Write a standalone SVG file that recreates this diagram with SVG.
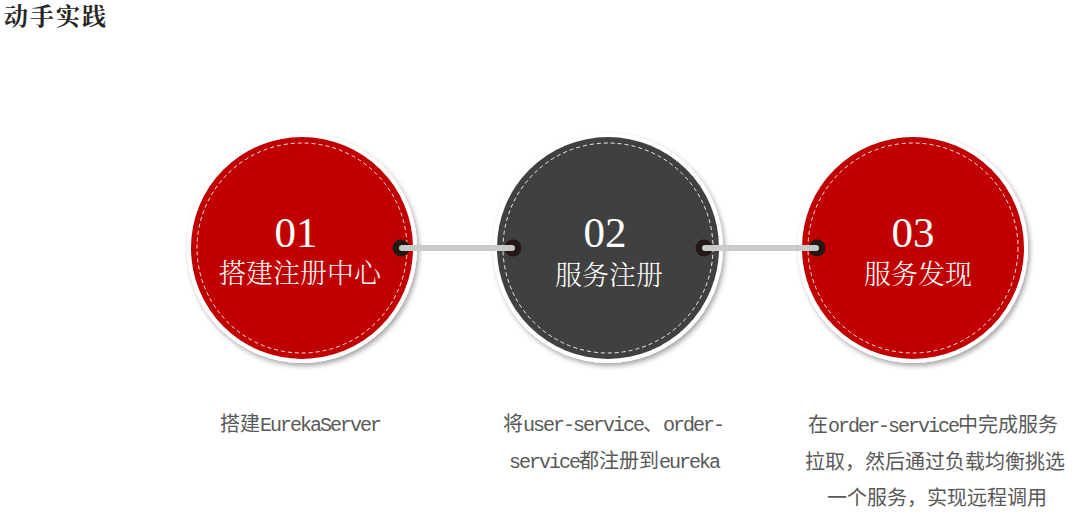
<svg xmlns="http://www.w3.org/2000/svg" width="1075" height="518" viewBox="0 0 1075 518">
  <defs>
    <filter id="shadow" x="-20%" y="-20%" width="140%" height="140%">
      <feDropShadow dx="2" dy="3" stdDeviation="2.5" flood-color="#000" flood-opacity="0.35"/>
    </filter>
  </defs>
  <style>
    .rim { fill: #ffffff; filter: url(#shadow); }
    .red { fill: #c00000; }
    .dark { fill: #404040; }
    .stitch { fill: none; stroke: #ffffff; stroke-width: 1; stroke-dasharray: 4 3; opacity: 0.9; }
    .num { font-family: "Liberation Serif", "DejaVu Serif", serif; font-size: 43px; fill: #ffffff; text-anchor: middle; }
    .label { font-family: "Noto Serif CJK SC", "Noto Sans CJK SC", sans-serif; font-size: 27px; fill: #ffffff; text-anchor: middle; font-weight: 300; }
    .cap { font-family: "Liberation Mono", "Noto Sans CJK SC", monospace; font-size: 20px; fill: #595959; text-anchor: middle; }
    .lat { letter-spacing: -2px; }
    .title { font-family: "Noto Serif CJK SC", "Noto Sans CJK SC", sans-serif; font-size: 24px; font-weight: bold; fill: #262626; letter-spacing: 2px; }
    .dot { fill: #231815; }
    .link { stroke: #c9caca; stroke-width: 6; stroke-linecap: round; }
  </style>

  <text class="title" x="4" y="25">动手实践</text>

  <g id="node-01">
    <circle class="rim" cx="302" cy="248" r="115"/>
    <circle class="red" cx="302" cy="248" r="111"/>
    <circle class="stitch" cx="302" cy="248" r="105"/>
    <text class="num" x="296" y="247">01</text>
    <text class="label" x="300" y="283">搭建注册中心</text>
  </g>

  <g id="node-02">
    <circle class="rim" cx="608" cy="248" r="115"/>
    <circle class="dark" cx="608" cy="248" r="111"/>
    <circle class="stitch" cx="608" cy="248" r="105"/>
    <text class="num" x="605" y="247">02</text>
    <text class="label" x="609" y="285">服务注册</text>
  </g>

  <g id="node-03">
    <circle class="rim" cx="913" cy="248" r="115"/>
    <circle class="red" cx="913" cy="248" r="111"/>
    <circle class="stitch" cx="913" cy="248" r="105"/>
    <text class="num" x="913" y="247">03</text>
    <text class="label" x="918" y="284">服务发现</text>
  </g>

  <g id="connectors">
    <circle class="dot" cx="401" cy="248" r="8.5"/>
    <circle class="dot" cx="513" cy="248" r="8.5"/>
    <line class="link" x1="402" y1="248" x2="512" y2="248"/>
    <circle class="dot" cx="704" cy="248" r="8.5"/>
    <circle class="dot" cx="817" cy="248" r="8.5"/>
    <line class="link" x1="705" y1="248" x2="816" y2="248"/>
  </g>

  <g id="captions">
    <text class="cap" x="300" y="431">搭建<tspan class="lat">EurekaServer</tspan></text>
    <text class="cap" x="613" y="431">将<tspan class="lat">user-service</tspan>、<tspan class="lat">order-</tspan></text>
    <text class="cap" x="614" y="468"><tspan class="lat">service</tspan>都注册到<tspan class="lat">eureka</tspan></text>
    <text class="cap" x="933" y="432">在<tspan class="lat">order-service</tspan>中完成服务</text>
    <text class="cap" x="935" y="469">拉取，然后通过负载均衡挑选</text>
    <text class="cap" x="937" y="505">一个服务，实现远程调用</text>
  </g>
</svg>
